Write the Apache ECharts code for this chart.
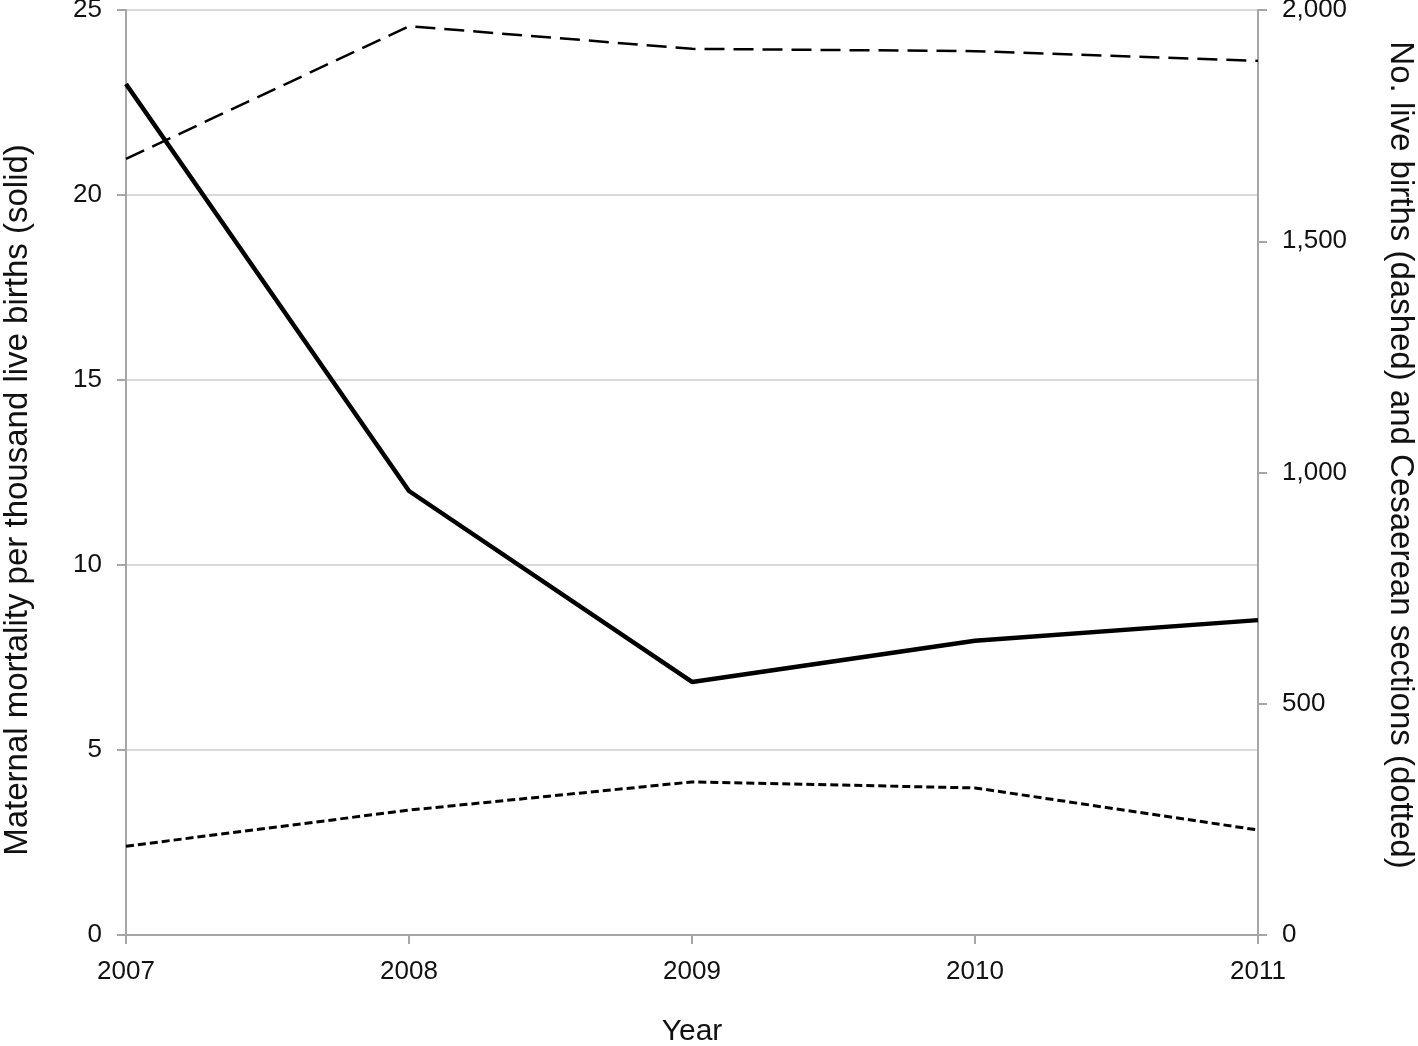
<!DOCTYPE html>
<html>
<head>
<meta charset="utf-8">
<script src="https://cdn.jsdelivr.net/npm/echarts@6/dist/echarts.min.js"></script>
<style>
  html, body { margin: 0; padding: 0; background: #fff; }
  #chart { width: 1418px; height: 1046px; }
</style>
</head>
<body>
<div id="chart"></div>
<script>
// data
var years = ['2007', '2008', '2009', '2010', '2011'];
var maternalMortality = [23.0, 12.0, 6.84, 7.95, 8.51];   // solid, left axis
var liveBirths = [1678, 1965, 1916, 1911, 1890];            // dashed, right axis
var cesareans = [192, 270, 331, 318, 227];                  // dotted, right axis

var leftTitle = 'Maternal mortality per thousand live births (solid)';
var rightTitle = 'No. live births (dashed) and Cesaerean sections (dotted)';

var chart = echarts.init(document.getElementById('chart'));

var FONT = 'Liberation Sans, Arial, sans-serif';
var tickFont = { color: '#111', fontSize: 26, fontFamily: FONT };
var axisGrey = '#a6a6a6';

chart.setOption({
  backgroundColor: '#fff',
  animation: false,
  grid: { left: 126, right: 160, top: 10, bottom: 111, outerBoundsMode: 'none', containLabel: false },
  // rotated axis titles (not centred on the plot in the original)
  graphic: [
    {
      type: 'text',
      x: 18, y: 500,
      rotation: Math.PI / 2,
      style: {
        text: leftTitle, fill: '#111', font: '33px ' + FONT,
        align: 'center', verticalAlign: 'middle'
      }
    },
    {
      type: 'text',
      x: 1400, y: 455,
      rotation: -Math.PI / 2,
      style: {
        text: rightTitle, fill: '#111', font: '33px ' + FONT,
        align: 'center', verticalAlign: 'middle'
      }
    }
  ],
  xAxis: {
    type: 'category',
    data: years,
    boundaryGap: false,
    name: 'Year',
    nameLocation: 'middle',
    nameGap: 82,
    nameTextStyle: { color: '#111', fontSize: 30, fontFamily: FONT },
    axisLine: { lineStyle: { color: axisGrey, width: 2 } },
    axisTick: { show: true, length: 9, lineStyle: { color: axisGrey, width: 2 } },
    axisLabel: Object.assign({ margin: 24 }, tickFont),
    splitLine: { show: false }
  },
  yAxis: [
    {
      type: 'value',
      min: 0, max: 25, interval: 5,
      axisLine: { show: true, lineStyle: { color: axisGrey, width: 2 } },
      axisTick: { show: true, length: 9, lineStyle: { color: axisGrey, width: 2 } },
      axisLabel: Object.assign({ margin: 24 }, tickFont),
      splitLine: { show: true, lineStyle: { color: '#dadada', width: 2 } }
    },
    {
      type: 'value',
      min: 0, max: 2000, interval: 500,
      position: 'right',
      axisLine: { show: true, lineStyle: { color: axisGrey, width: 2 } },
      axisTick: { show: true, length: 9, lineStyle: { color: axisGrey, width: 2 } },
      axisLabel: Object.assign({
        margin: 24,
        formatter: function (v) { return v.toLocaleString('en-US'); }
      }, tickFont),
      splitLine: { show: false }
    }
  ],
  series: [
    {
      name: 'Maternal mortality',
      type: 'line',
      yAxisIndex: 0,
      data: maternalMortality,
      symbol: 'none',
      lineStyle: { color: '#000', width: 4.5 },
      z: 5
    },
    {
      name: 'Live births',
      type: 'line',
      yAxisIndex: 1,
      data: liveBirths,
      symbol: 'none',
      lineStyle: { color: '#000', width: 2.5, type: [20, 9] }
    },
    {
      name: 'Cesarean sections',
      type: 'line',
      yAxisIndex: 1,
      data: cesareans,
      symbol: 'none',
      lineStyle: { color: '#000', width: 3, type: [8, 4] }
    }
  ]
});
</script>
</body>
</html>
